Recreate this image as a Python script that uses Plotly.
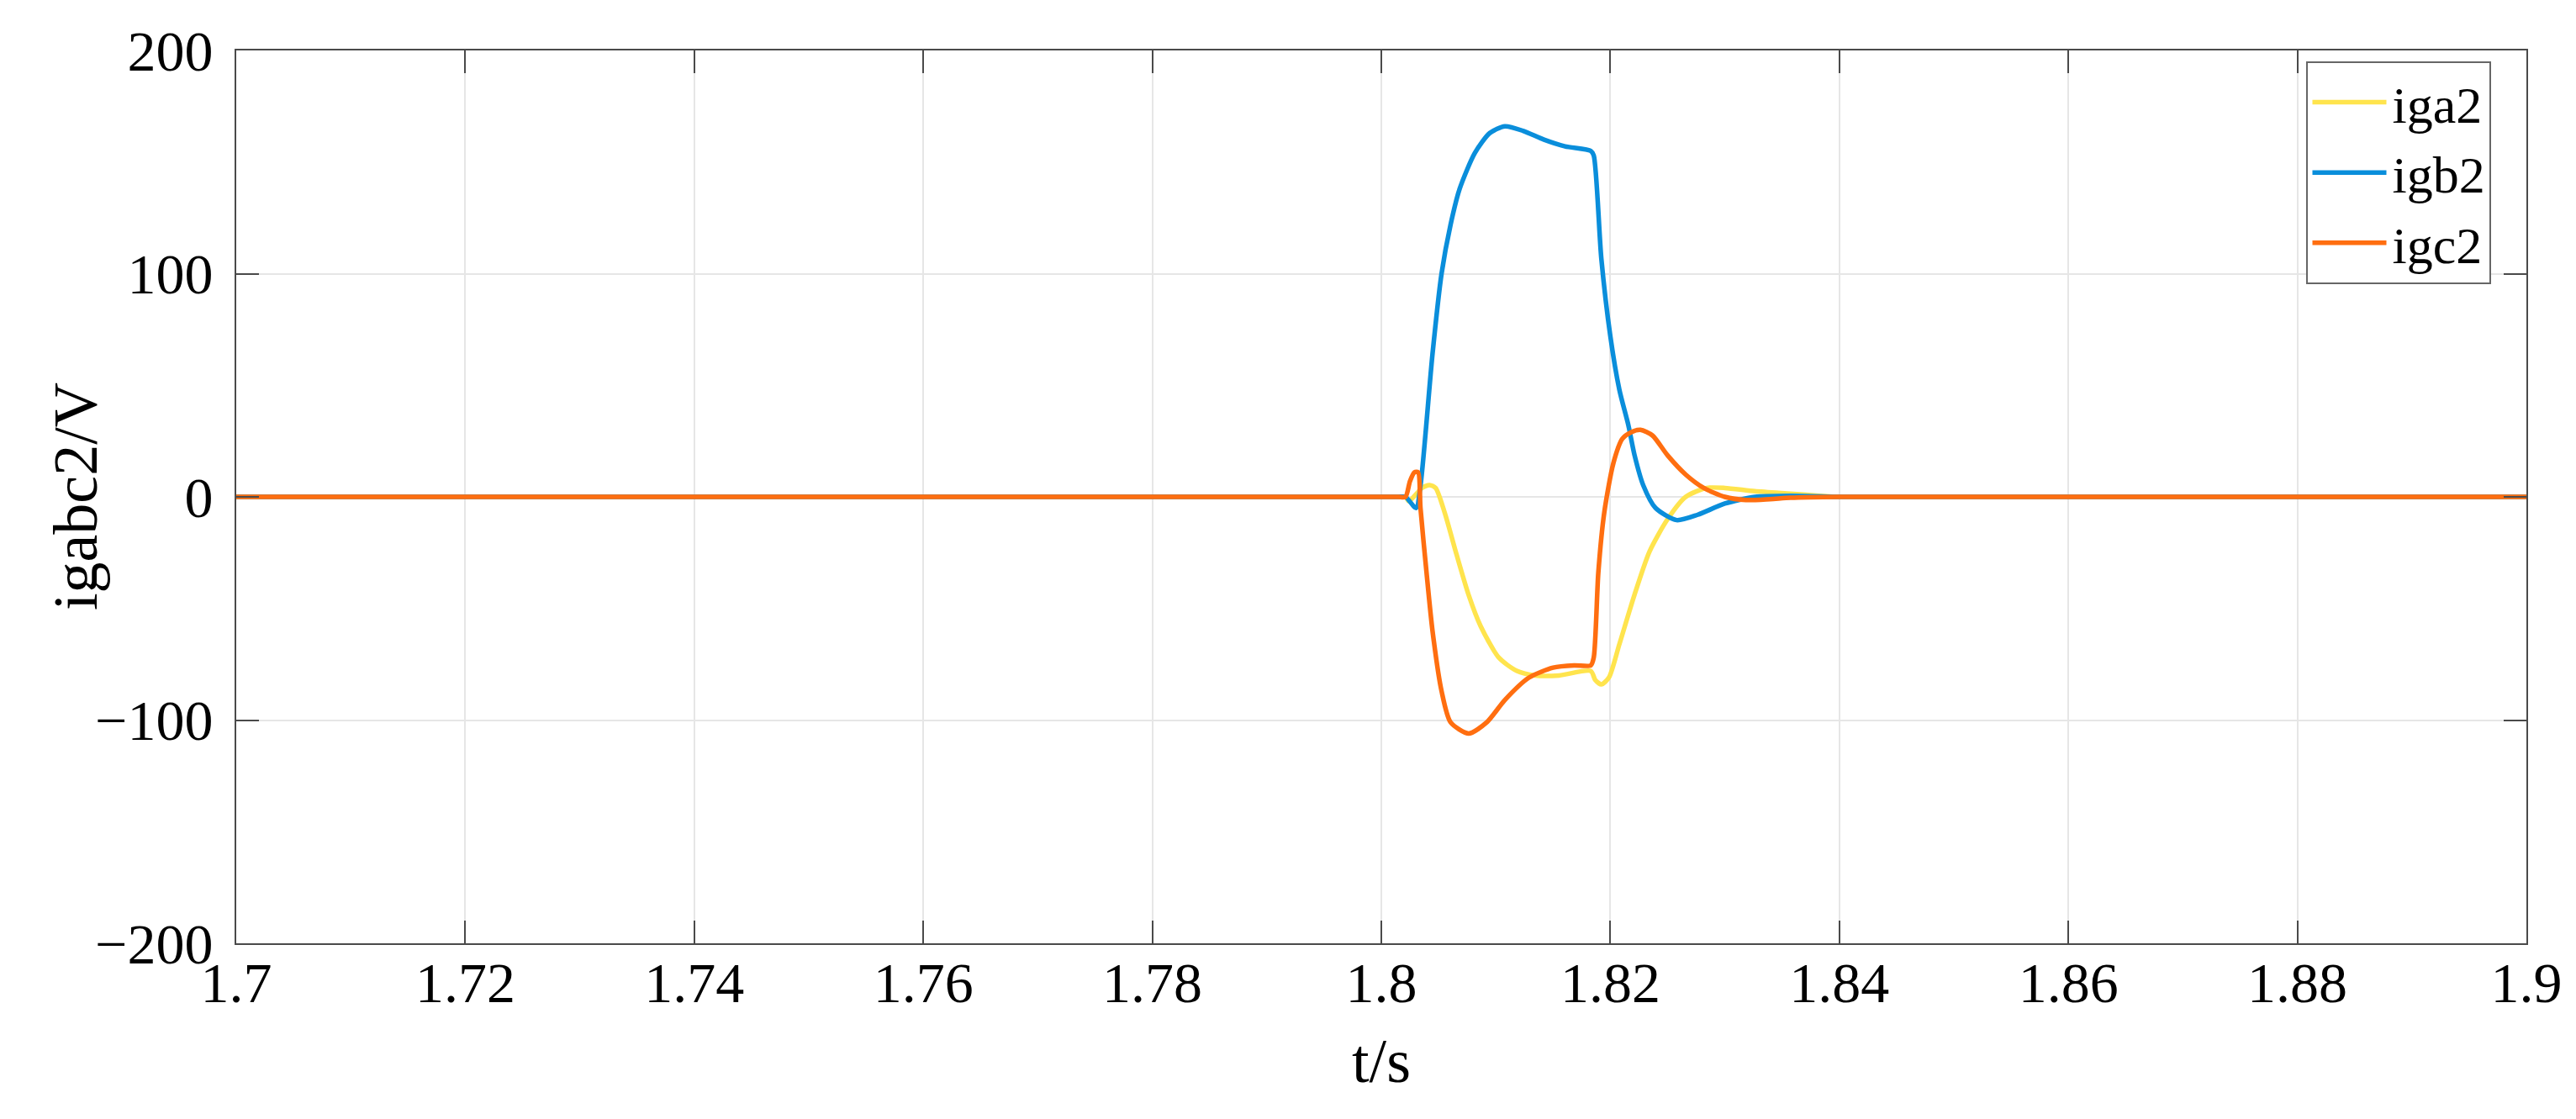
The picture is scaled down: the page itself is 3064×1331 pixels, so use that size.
import plotly.graph_objects as go

# ---- data ----
t_a = [1.70, 1.75, 1.79, 1.800, 1.8015, 1.80211, 1.8024, 1.80300, 1.80355, 1.80421, 1.80474,
       1.80553, 1.80658, 1.80763, 1.80868, 1.81026, 1.81184, 1.81342, 1.81553, 1.81829,
       1.81868, 1.81921, 1.81987, 1.82079, 1.82210, 1.82342, 1.82500, 1.82658, 1.82842,
       1.83000, 1.83263, 1.83574, 1.8380, 1.8400, 1.8420, 1.85, 1.90]
iga2 = [0, 0, 0, 0, 0, 0, -2, 1, 4, 5.3, 4,
        -7, -26, -44, -58, -72, -78, -80, -80, -78,
        -82, -84, -81, -66, -44, -24.5, -10, 0, 4,
        4, 2.5, 1.4, 0.6, 0, 0, 0, 0]

t_b = [1.70, 1.75, 1.79, 1.800, 1.8015, 1.80211, 1.80303, 1.80342, 1.80447, 1.80526, 1.80605,
       1.80684, 1.80816, 1.80947, 1.81079, 1.81237, 1.81421, 1.81605, 1.81829, 1.81855,
       1.81921, 1.82000, 1.82079, 1.82158, 1.82210, 1.82289, 1.82395, 1.82579, 1.82763,
       1.83000, 1.83263, 1.83574, 1.8400, 1.8420, 1.85, 1.90]
igb2 = [0, 0, 0, 0, 0, 0, -5, 5, 64, 100, 122,
        138, 154, 163, 166, 164, 160, 157, 155, 153,
        107, 72, 48, 32, 19, 5, -5, -10.4, -8,
        -3, 0, 0.5, 0, 0, 0, 0]

t_c = [1.70, 1.75, 1.79, 1.800, 1.8015, 1.80211, 1.80250, 1.80289, 1.80321, 1.80342, 1.80395,
       1.80447, 1.80526, 1.80605, 1.80763, 1.80921, 1.81079, 1.81289, 1.81500, 1.81684,
       1.81829, 1.81855, 1.81895, 1.81947, 1.82026, 1.82105, 1.82184, 1.82263, 1.82368,
       1.82500, 1.82658, 1.82816, 1.83000, 1.83184, 1.83395, 1.83574, 1.8400, 1.8420,
       1.85, 1.90]
igc2 = [0, 0, 0, 0, 0, 0, 7, 11, 11, -5, -34,
        -60, -87, -101, -106, -101, -91, -81, -76.5, -75.5,
        -75.5, -72, -34, -7, 15, 26, 29, 30, 27.5,
        18.6, 10, 4, 0, -1.4, -1, -0.4, 0, 0,
        0, 0]

x_ticks = [1.7, 1.72, 1.74, 1.76, 1.78, 1.8, 1.82, 1.84, 1.86, 1.88, 1.9]
x_ticklabels = ["1.7", "1.72", "1.74", "1.76", "1.78", "1.8", "1.82", "1.84", "1.86", "1.88", "1.9"]
y_ticks = [-200, -100, 0, 100, 200]

FONT = "Liberation Serif"
LW = 5.5

fig = go.Figure()
fig.add_trace(go.Scatter(x=t_a, y=iga2, mode="lines", name="iga2",
                         line=dict(color="#FFE44D", width=LW, shape="spline", smoothing=0.7)))
fig.add_trace(go.Scatter(x=t_b, y=igb2, mode="lines", name="igb2",
                         line=dict(color="#0A8EDB", width=LW, shape="spline", smoothing=0.7)))
fig.add_trace(go.Scatter(x=t_c, y=igc2, mode="lines", name="igc2",
                         line=dict(color="#FF6E10", width=LW, shape="spline", smoothing=0.7)))

axis_common = dict(
    showline=True, linecolor="#4a4a4a", linewidth=2, mirror="ticks",
    ticks="inside", ticklen=27, tickwidth=2, tickcolor="#4a4a4a",
    showgrid=True, gridcolor="#e6e6e6", gridwidth=2,
    zeroline=False,
    tickfont=dict(family=FONT, size=68, color="black"),
)

fig.update_layout(
    width=3064, height=1331,
    margin=dict(l=273, r=67, t=52, b=217),
    paper_bgcolor="white", plot_bgcolor="white",
    font=dict(family=FONT, color="black"),
    xaxis=dict(range=[1.7, 1.9], tickvals=x_ticks, ticktext=x_ticklabels,
               title=dict(text="t/s", font=dict(family=FONT, size=74), standoff=30),
               ticklabelstandoff=-14, **axis_common),
    yaxis=dict(range=[-200, 200], tickvals=y_ticks,
               ticklabelstandoff=12, **axis_common),
    legend=dict(x=0.904, y=0.988, xanchor="left", yanchor="top",
                bgcolor="white", bordercolor="#666666", borderwidth=2,
                font=dict(family=FONT, size=62, color="black"),
                itemwidth=90, tracegroupgap=0),
    showlegend=True,
    annotations=[dict(text="igabc2/V", textangle=-90, xref="paper", yref="paper",
                      x=-0.0701, y=0.5, xanchor="center", yanchor="middle",
                      showarrow=False, font=dict(family=FONT, size=74, color="black"))],
)

post = """
var gd = document.getElementById('{plot_id}');
function fixLegend(){
  gd.querySelectorAll('.legend path.js-line').forEach(function(p){ p.setAttribute('d','M5,0h88'); });
}
fixLegend();
gd.on('plotly_afterplot', fixLegend);
"""

fig.write_html("out.html", post_script=post)
